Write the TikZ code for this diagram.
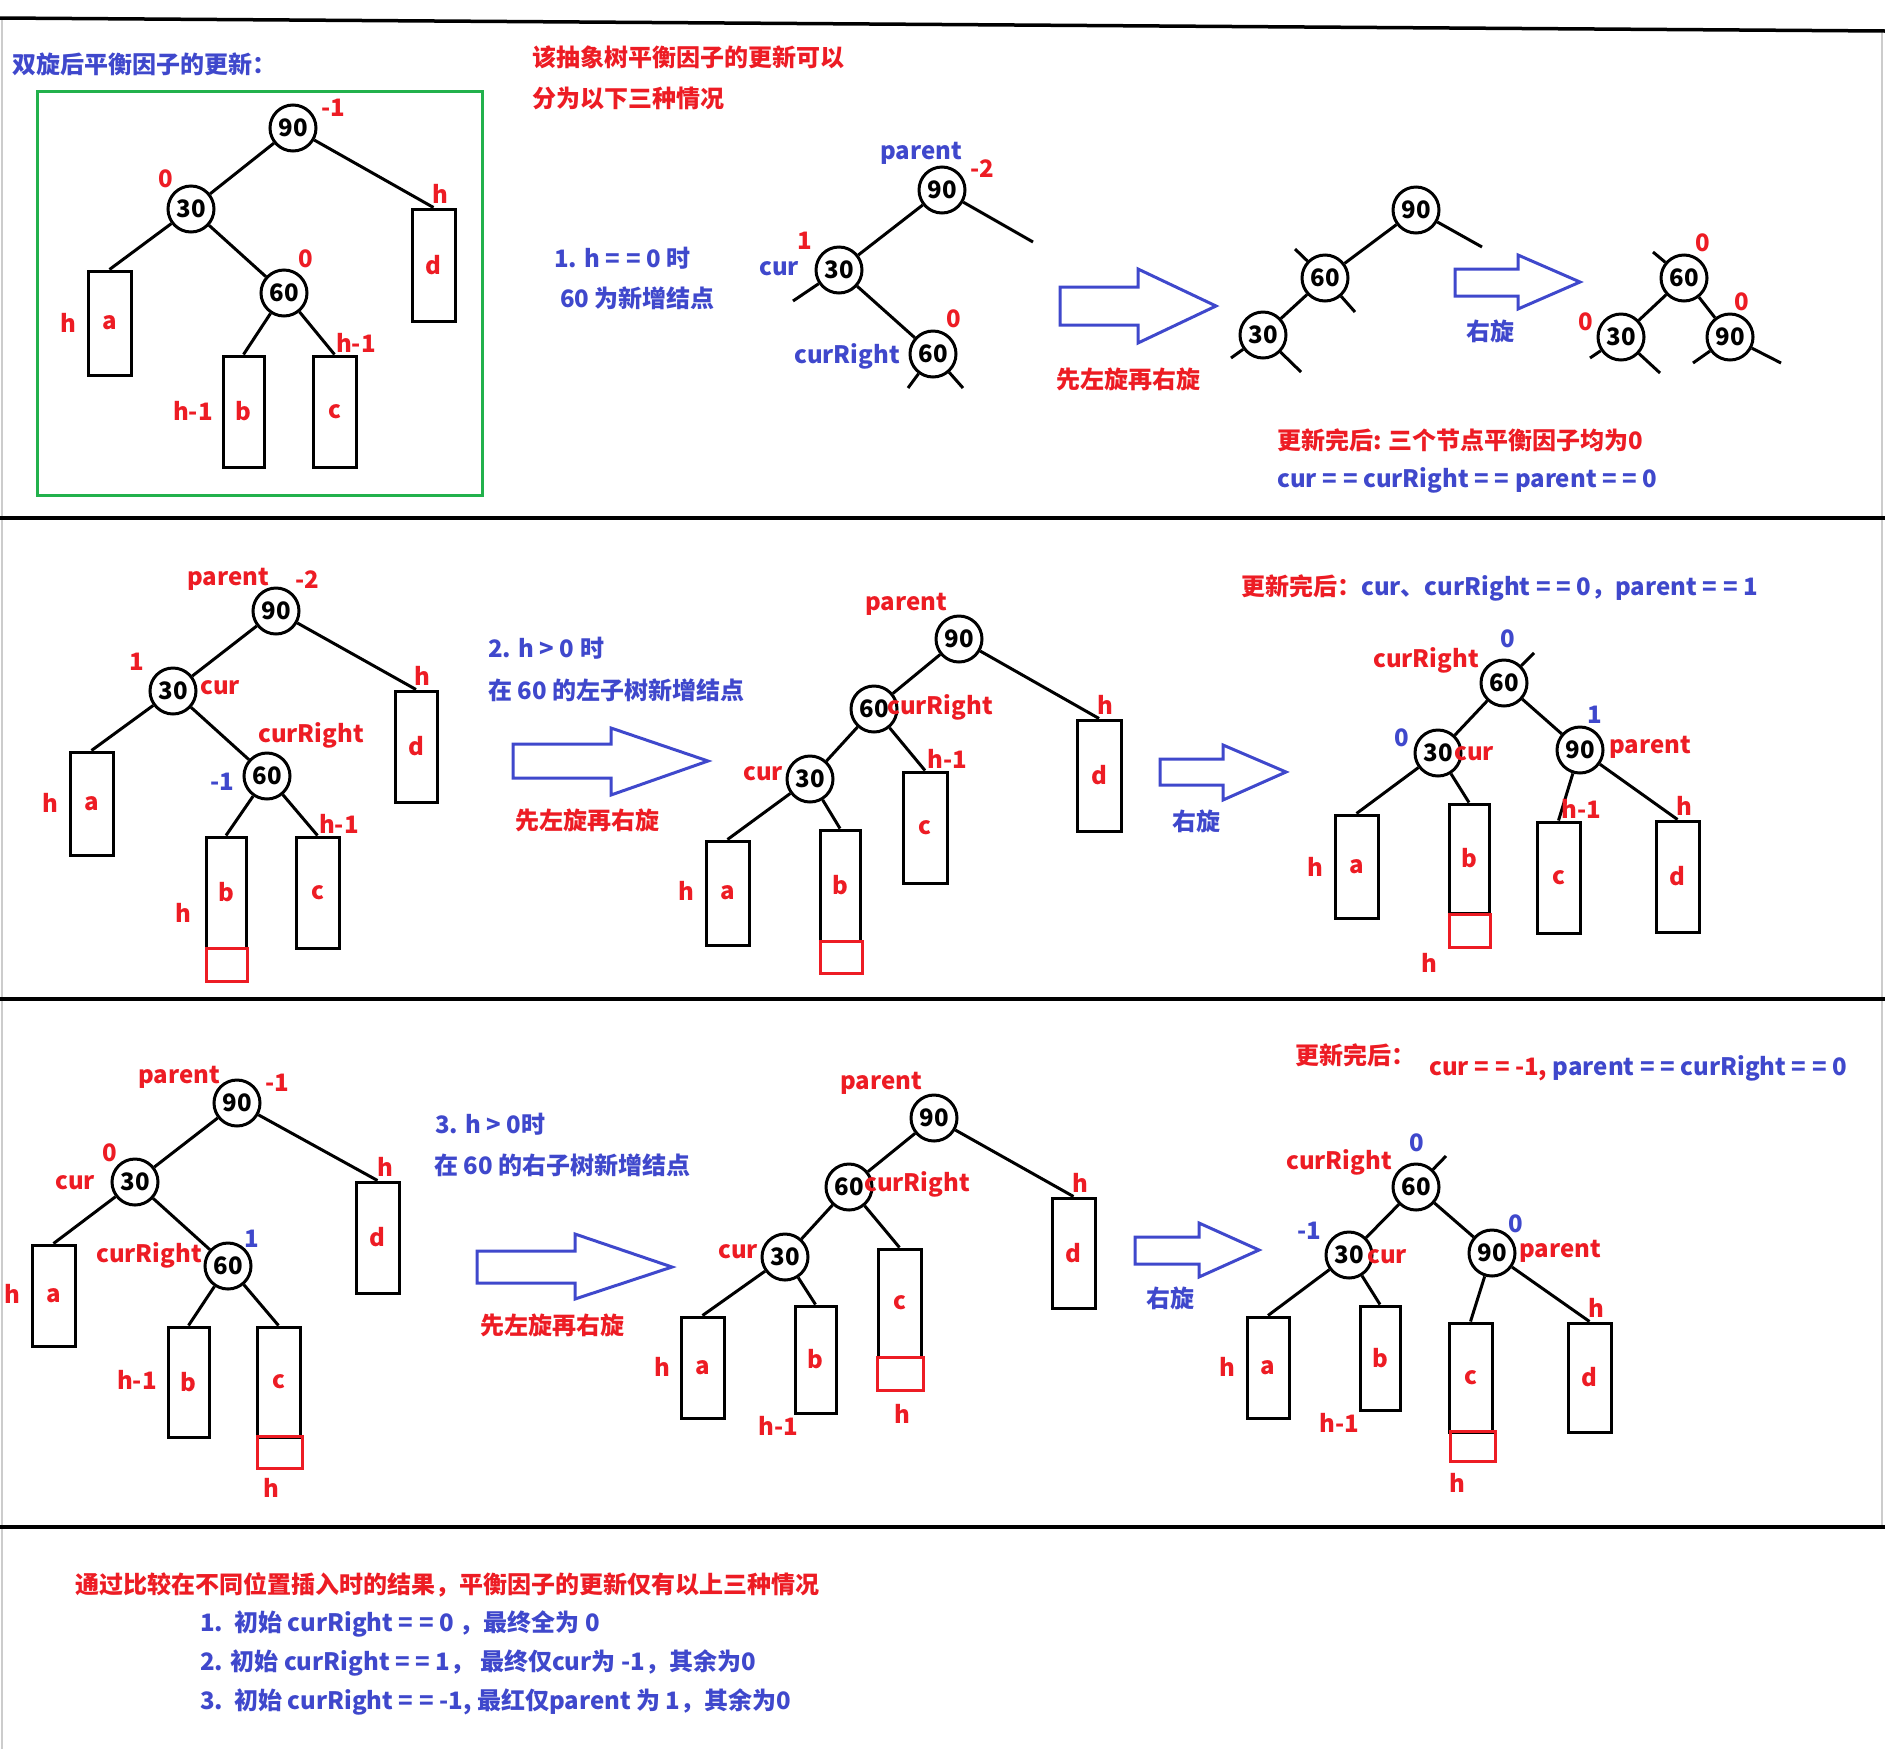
\documentclass[tikz,border=0pt]{standalone}
\usepackage{fontspec}
\setmainfont{Noto Sans CJK SC}
\definecolor{myred}{RGB}{237,28,36}
\definecolor{myblue}{RGB}{63,72,204}
\definecolor{mygreen}{RGB}{34,177,76}
\newcommand\lab{\fontsize{24}{28}\selectfont\bfseries}
\newcommand\EQ{=\kern6pt=}
\tikzset{
 rl/.style={text=myred, inner sep=0pt, font=\lab},
 bl/.style={text=myblue, inner sep=0pt, font=\lab},
 nd/.style={circle, draw, line width=3pt, minimum size=46pt, inner sep=0pt, font=\lab, fill=white},
 bx/.style={draw, line width=3pt, inner sep=0pt, text=myred, font=\lab},
 rbx/.style={draw=myred, line width=3pt, inner sep=0pt},
 ed/.style={line width=3pt},
 sepline/.style={line width=3.5pt},
 bigarrow/.style={draw=myblue, line width=3pt, line join=miter},
}
\newcommand\tbox[6]{\node[bx, minimum width=#4pt, minimum height=#5pt] (#1) at (#2,#3) {#6};}
\newcommand\rbox[5]{\node[rbx, minimum width=#4pt, minimum height=#5pt] (#1) at (#2,#3) {};}
\begin{document}
\begin{tikzpicture}[x=1pt,y=-1pt]
\useasboundingbox (0,0) rectangle (1885,1749);
\fill[white] (0,0) rectangle (1885,1749);
% frame lines
\draw[gray!40, line width=1.5pt] (2,18) -- (2,1749);
\draw[gray!40, line width=1.5pt] (1882,31) -- (1882,1527);
\draw[sepline] (0,18) -- (1885,31);
\draw[sepline] (0,518) -- (1885,518);
\draw[sepline] (0,999) -- (1885,999);
\draw[sepline] (0,1527) -- (1885,1527);

% ================= SECTION 1 =================
\node[bl, anchor=west] (t1a) at (12,64) {双旋后平衡因子的更新：};
\node[rl, anchor=west] (t1b) at (532,57) {该抽象树平衡因子的更新可以};
\node[rl, anchor=west] (t1c) at (532,98) {分为以下三种情况};
\node[bl, anchor=west] (t1d) at (554,258) {1. h \EQ{} 0 时};
\node[bl, anchor=west] (t1e) at (560,298) {60 为新增结点};
\node[rl] (t1f) at (1128,379) {先左旋再右旋};
\node[bl] (t1g) at (1490,331) {右旋};
\node[rl, anchor=west] (t1h) at (1277,440) {更新完后: 三个节点平衡因子均为0};
\node[bl, anchor=west] (t1i) at (1277,480) {cur \EQ{} curRight \EQ{} parent \EQ{} 0};

% green box tree
\draw[mygreen, line width=3pt] (37,91) rectangle (482,495);
\node[nd] (g90) at (293,128) {90};
\node[nd] (g30) at (191,209) {30};
\node[nd] (g60) at (284,293) {60};
\tbox{ga}{109.5}{323}{43}{104}{a}
\tbox{gb}{243.5}{411.5}{41}{111}{b}
\tbox{gc}{334.5}{411.5}{43}{111}{c}
\tbox{gd}{433.5}{265}{43}{112}{d}
\draw[ed] (g90) -- (g30);
\draw[ed] (g90) -- (gd.north);
\draw[ed] (g30) -- (ga.north);
\draw[ed] (g30) -- (g60);
\draw[ed] (g60) -- (gb.north);
\draw[ed] (g60) -- (gc.north);
\node[rl] (gl1) at (333,108) {-1};
\node[rl] (gl2) at (166,179) {0};
\node[rl] (gl3) at (306,259) {0};
\node[rl] (gl4) at (440,194) {h};
\node[rl] (gl5) at (68,323) {h};
\node[rl] (gl6) at (356,343) {h-1};
\node[rl] (gl7) at (193,411) {h-1};

% tree 1
\node[nd] (p90) at (942,190) {90};
\node[nd] (p30) at (839,270) {30};
\node[nd] (p60) at (933,354) {60};
\draw[ed] (p90) -- (p30);
\draw[ed] (p30) -- (p60);
\coordinate (ps1) at (1033,242);
\coordinate (ps2) at (793,301);
\coordinate (ps3) at (908,388);
\coordinate (ps4) at (963,388);
\draw[ed] (p90) -- (ps1);
\draw[ed] (p30) -- (ps2);
\draw[ed] (p60) -- (ps3);
\draw[ed] (p60) -- (ps4);
\node[bl] (pl1) at (921,153) {parent};
\node[rl] (pl2) at (982,169) {-2};
\node[rl] (pl3) at (805,241) {1};
\node[bl] (pl4) at (779,269) {cur};
\node[rl] (pl5) at (954,319) {0};
\node[bl] (pl6) at (847,356) {curRight};

% arrow 1
\draw[bigarrow] (1060,287) -- (1138,287) -- (1138,269) -- (1216,306) -- (1138,343) -- (1138,325) -- (1060,325) -- cycle;

% tree 2
\node[nd] (q90) at (1416,210) {90};
\node[nd] (q60) at (1325,278) {60};
\node[nd] (q30) at (1263,335) {30};
\draw[ed] (q90) -- (q60);
\draw[ed] (q60) -- (q30);
\coordinate (qs1) at (1482,247);
\coordinate (qs2) at (1295,249);
\coordinate (qs3) at (1355,312);
\coordinate (qs4) at (1231,358);
\coordinate (qs5) at (1301,372);
\draw[ed] (q90) -- (qs1);
\draw[ed] (q60) -- (qs2);
\draw[ed] (q60) -- (qs3);
\draw[ed] (q30) -- (qs4);
\draw[ed] (q30) -- (qs5);

% arrow 2
\draw[bigarrow] (1455,269) -- (1518,269) -- (1518,255) -- (1580,282) -- (1518,309) -- (1518,296) -- (1455,296) -- cycle;

% tree 3
\node[nd] (r60) at (1684,278) {60};
\node[nd] (r30) at (1621,337) {30};
\node[nd] (r90) at (1730,337) {90};
\draw[ed] (r60) -- (r30);
\draw[ed] (r60) -- (r90);
\coordinate (rs1) at (1653,252);
\coordinate (rs2) at (1590,358);
\coordinate (rs3) at (1660,373);
\coordinate (rs4) at (1693,363);
\coordinate (rs5) at (1781,363);
\draw[ed] (r60) -- (rs1);
\draw[ed] (r30) -- (rs2);
\draw[ed] (r30) -- (rs3);
\draw[ed] (r90) -- (rs4);
\draw[ed] (r90) -- (rs5);
\node[rl] (rl1) at (1703,243) {0};
\node[rl] (rl2) at (1586,322) {0};
\node[rl] (rl3) at (1742,302) {0};

% ================= SECTION 2 =================
\node[bl, anchor=west] (t2a) at (488,648) {2. h > 0 时};
\node[bl, anchor=west] (t2b) at (488,690) {在 60 的左子树新增结点};
\node[rl] (t2c) at (587,820) {先左旋再右旋};
\node[bl] (t2d) at (1196,821) {右旋};
\node[rl, anchor=west] (t2e) at (1241,588) {更新完后：\textcolor{myblue}{cur、curRight \EQ{} 0，parent \EQ{} 1}};

% tree A
\node[nd] (a90) at (276,611) {90};
\node[nd] (a30) at (173,691) {30};
\node[nd] (a60) at (267,776) {60};
\tbox{Aa}{91.5}{803.5}{43}{103}{a}
\tbox{Ab}{226}{892.5}{40}{111}{b}
\rbox{Abr}{226.5}{965}{41}{33}
\tbox{Ac}{317.5}{892.5}{43}{111}{c}
\tbox{Ad}{416}{746.5}{42}{111}{d}
\draw[ed] (a90) -- (a30);
\draw[ed] (a90) -- (Ad.north);
\draw[ed] (a30) -- (Aa.north);
\draw[ed] (a30) -- (a60);
\draw[ed] (a60) -- (Ab.north);
\draw[ed] (a60) -- (Ac.north);
\node[rl] (al1) at (228,579) {parent};
\node[rl] (al2) at (307,580) {-2};
\node[rl] (al3) at (137,662) {1};
\node[rl] (al4) at (220,688) {cur};
\node[rl] (al5) at (311,735) {curRight};
\node[bl] (al6) at (222,782) {-1};
\node[rl] (al7) at (422,676) {h};
\node[rl] (al8) at (50,803) {h};
\node[rl] (al9) at (183,913) {h};
\node[rl] (al10) at (339,824) {h-1};

% arrow 3
\draw[bigarrow] (513,744) -- (611,744) -- (611,728) -- (708,761) -- (611,795) -- (611,778) -- (513,778) -- cycle;

% tree B
\node[nd] (b90) at (959,639) {90};
\node[nd] (b60) at (874,709) {60};
\node[nd] (b30) at (810,779) {30};
\tbox{Ba}{727.5}{893}{43}{104}{a}
\tbox{Bb}{840}{885.5}{40}{111}{b}
\rbox{Bbr}{841}{957}{42}{32}
\tbox{Bc}{925}{827.5}{44}{111}{c}
\tbox{Bd}{1099}{775.5}{44}{111}{d}
\draw[ed] (b90) -- (b60);
\draw[ed] (b90) -- (Bd.north);
\draw[ed] (b60) -- (b30);
\draw[ed] (b60) -- (Bc.north);
\draw[ed] (b30) -- (Ba.north);
\draw[ed] (b30) -- (Bb.north);
\node[rl] (bl1) at (906,604) {parent};
\node[rl, anchor=west] (bl2) at (887,707) {curRight};
\node[rl] (bl3) at (763,774) {cur};
\node[rl] (bl4) at (947,759) {h-1};
\node[rl] (bl5) at (1105,705) {h};
\node[rl] (bl6) at (686,891) {h};

% arrow 4
\draw[bigarrow] (1160,759) -- (1223,759) -- (1223,745) -- (1286,772) -- (1223,800) -- (1223,785) -- (1160,785) -- cycle;

% tree C
\node[nd] (c60) at (1504,683) {60};
\node[nd] (c30) at (1438,753) {30};
\node[nd] (c90) at (1580,750) {90};
\tbox{Ca}{1356.5}{866.5}{43}{103}{a}
\tbox{Cb}{1469}{858.5}{40}{109}{b}
\rbox{Cbr}{1469.5}{930.5}{41}{33}
\tbox{Cc}{1558.5}{877.5}{43}{111}{c}
\tbox{Cd}{1677.5}{876.5}{43}{111}{d}
\draw[ed] (c60) -- (c30);
\draw[ed] (c60) -- (c90);
\draw[ed] (c30) -- (Ca.north);
\draw[ed] (c30) -- (Cb.north);
\draw[ed] (c90) -- (Cc.north);
\draw[ed] (c90) -- (Cd.north);
\coordinate (cs1) at (1534,653);
\draw[ed] (c60) -- (cs1);
\node[bl] (cl1) at (1508,639) {0};
\node[rl] (cl2) at (1426,660) {curRight};
\node[bl] (cl3) at (1402,738) {0};
\node[rl] (cl4) at (1474,754) {cur};
\node[bl] (cl5) at (1595,715) {1};
\node[rl, anchor=west] (cl6) at (1609,747) {parent};
\node[rl] (cl7) at (1315,867) {h};
\node[rl] (cl8) at (1429,963) {h};
\node[rl] (cl9) at (1581,809) {h-1};
\node[rl] (cl10) at (1684,806) {h};

% ================= SECTION 3 =================
\node[bl, anchor=west] (t3a) at (435,1124) {3. h > 0时};
\node[bl, anchor=west] (t3b) at (434,1165) {在 60 的右子树新增结点};
\node[rl] (t3c) at (552,1325) {先左旋再右旋};
\node[bl] (t3d) at (1170,1298) {右旋};
\node[rl, anchor=west] (t3e) at (1295,1055) {更新完后：};
\node[rl, anchor=west] (t3f) at (1429,1068) {cur \EQ{} -1, \textcolor{myblue}{parent \EQ{} curRight \EQ{} 0}};

% tree D
\node[nd] (d90) at (237,1103) {90};
\node[nd] (d30) at (135,1182) {30};
\node[nd] (d60) at (228,1266) {60};
\tbox{Da}{53.5}{1295.5}{43}{101}{a}
\tbox{Db}{188.5}{1382}{41}{110}{b}
\tbox{Dc}{278.5}{1382}{43}{110}{c}
\rbox{Dcr}{280}{1452}{45}{32}
\tbox{Dd}{377.5}{1237.5}{43}{111}{d}
\draw[ed] (d90) -- (d30);
\draw[ed] (d90) -- (Dd.north);
\draw[ed] (d30) -- (Da.north);
\draw[ed] (d30) -- (d60);
\draw[ed] (d60) -- (Db.north);
\draw[ed] (d60) -- (Dc.north);
\node[rl] (dl1) at (179,1077) {parent};
\node[rl] (dl2) at (277,1083) {-1};
\node[rl] (dl3) at (110,1153) {0};
\node[rl] (dl4) at (75,1183) {cur};
\node[bl] (dl5) at (252,1239) {1};
\node[rl] (dl6) at (149,1255) {curRight};
\node[rl] (dl7) at (385,1167) {h};
\node[rl] (dl8) at (12,1294) {h};
\node[rl] (dl9) at (137,1380) {h-1};
\node[rl] (dl10) at (271,1488) {h};

% arrow 5
\draw[bigarrow] (477,1251) -- (575,1251) -- (575,1234) -- (672,1267) -- (575,1299) -- (575,1283) -- (477,1283) -- cycle;

% tree E
\node[nd] (e90) at (934,1118) {90};
\node[nd] (e60) at (849,1187) {60};
\node[nd] (e30) at (785,1257) {30};
\tbox{Ea}{702.5}{1367.5}{43}{101}{a}
\tbox{Eb}{815.5}{1359.5}{41}{107}{b}
\tbox{Ec}{899.5}{1303}{43}{108}{c}
\rbox{Ecr}{900}{1374}{46}{33}
\tbox{Ed}{1073.5}{1253}{43}{110}{d}
\draw[ed] (e90) -- (e60);
\draw[ed] (e90) -- (Ed.north);
\draw[ed] (e60) -- (e30);
\draw[ed] (e60) -- (Ec.north);
\draw[ed] (e30) -- (Ea.north);
\draw[ed] (e30) -- (Eb.north);
\node[rl] (el1) at (881,1083) {parent};
\node[rl, anchor=west] (el2) at (864,1184) {curRight};
\node[rl] (el3) at (738,1252) {cur};
\node[rl] (el4) at (1080,1183) {h};
\node[rl] (el5) at (902,1414) {h};
\node[rl] (el6) at (662,1367) {h};
\node[rl] (el7) at (778,1426) {h-1};

% arrow 6
\draw[bigarrow] (1135,1237) -- (1199,1237) -- (1199,1223) -- (1259,1250) -- (1199,1277) -- (1199,1264) -- (1135,1264) -- cycle;

% tree F
\node[nd] (f60) at (1416,1187) {60};
\node[nd] (f30) at (1349,1255) {30};
\node[nd] (f90) at (1492,1253) {90};
\tbox{Fa}{1268}{1367.5}{42}{101}{a}
\tbox{Fb}{1380}{1358}{40}{104}{b}
\tbox{Fc}{1470.5}{1377.5}{43}{109}{c}
\rbox{Fcr}{1472.5}{1446}{45}{30}
\tbox{Fd}{1589.5}{1377.5}{43}{109}{d}
\draw[ed] (f60) -- (f30);
\draw[ed] (f60) -- (f90);
\draw[ed] (f30) -- (Fa.north);
\draw[ed] (f30) -- (Fb.north);
\draw[ed] (f90) -- (Fc.north);
\draw[ed] (f90) -- (Fd.north);
\coordinate (fs1) at (1446,1156);
\draw[ed] (f60) -- (fs1);
\node[bl] (fl1) at (1417,1143) {0};
\node[rl] (fl2) at (1339,1162) {curRight};
\node[bl] (fl3) at (1309,1231) {-1};
\node[rl, anchor=west] (fl4) at (1367,1257) {cur};
\node[bl] (fl5) at (1516,1224) {0};
\node[rl, anchor=west] (fl6) at (1519,1251) {parent};
\node[rl] (fl7) at (1227,1367) {h};
\node[rl] (fl8) at (1339,1423) {h-1};
\node[rl] (fl9) at (1457,1483) {h};
\node[rl] (fl10) at (1596,1308) {h};

% ================= BOTTOM TEXT =================
\node[rl, anchor=west] (s1) at (75,1585) {通过比较在不同位置插入时的结果，平衡因子的更新仅有以上三种情况};
\node[bl, anchor=west] (s2) at (200,1624) {1.\ \ 初始 curRight \EQ{} 0 ，最终全为 0};
\node[bl, anchor=west] (s3) at (200,1663) {2. 初始 curRight \EQ{} 1，\ 最终仅cur为 -1，其余为0};
\node[bl, anchor=west] (s4) at (200,1702) {3.\ \ 初始 curRight \EQ{} -1, 最红仅parent 为 1，其余为0};
\end{tikzpicture}
\end{document}
